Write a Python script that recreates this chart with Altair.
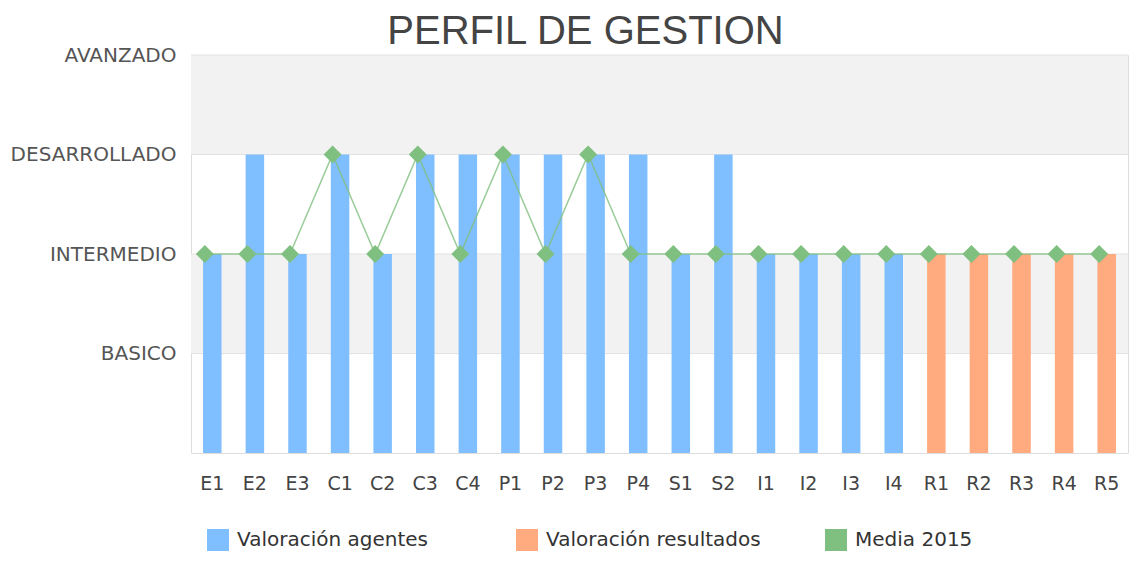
import altair as alt
import pandas as pd

categorias = ["E1", "E2", "E3", "C1", "C2", "C3", "C4", "P1", "P2", "P3", "P4",
              "S1", "S2", "I1", "I2", "I3", "I4", "R1", "R2", "R3", "R4", "R5"]
agentes = [2, 3, 2, 3, 2, 3, 3, 3, 3, 3, 3, 2, 3, 2, 2, 2, 2,
           None, None, None, None, None]
resultados = [None] * 17 + [2, 2, 2, 2, 2]
media = [2, 2, 2, 3, 2, 3, 2, 3, 2, 3, 2, 2, 2, 2, 2, 2, 2, 2, 2, 2, 2, 2]

niveles = ["", "BASICO", "INTERMEDIO", "DESARROLLADO", "AVANZADO"]
bandas_inicio = [1, 3]
bandas_fin = [2, 4]
lineas_grid = [1, 2, 3, 4]
series = ["Valoración agentes", "Valoración resultados", "Media 2015"]
colores = ["#80bfff", "#ffaa7f", "#7fbf7f"]

rows = []
for c, a, r in zip(categorias, agentes, resultados):
    if a is not None:
        rows.append({"cat": c, "valor": a, "serie": series[0]})
    if r is not None:
        rows.append({"cat": c, "valor": r, "serie": series[1]})
barras_df = pd.DataFrame(rows)
media_df = pd.DataFrame({"cat": categorias, "valor": media, "serie": [series[2]] * len(categorias)})
bandas_df = pd.DataFrame({"y": bandas_inicio, "y2": bandas_fin})
grid_df = pd.DataFrame({"y": lineas_grid})

label_expr = "[" + ",".join("'" + n + "'" for n in niveles) + "][datum.value]"
yscale = alt.Scale(domain=[0, 4], nice=False)
yaxis = alt.Axis(values=list(range(len(niveles))), labelExpr=label_expr, title=None,
                 ticks=False, domain=False, grid=False, labelPadding=15,
                 labelFontSize=20, labelColor="#555555", labelFont="DejaVu Sans")

xenc = alt.X("cat:N", sort=categorias,
             scale=alt.Scale(paddingInner=0, paddingOuter=0),
             axis=alt.Axis(title=None, labelAngle=0, ticks=False, domain=False,
                           labelPadding=21, labelFontSize=19, labelColor="#444444",
                           labelFont="DejaVu Sans", grid=False))

color = alt.Color("serie:N", scale=alt.Scale(domain=series, range=colores),
                  legend=alt.Legend(title=None, orient="none", legendX=16, legendY=474,
                                    direction="horizontal", columns=3, gridAlign="all",
                                    columnPadding=64, symbolType="square", symbolSize=484,
                                    symbolStrokeWidth=0, symbolOpacity=1,
                                    labelFontSize=20, labelColor="#333333", labelLimit=400,
                                    labelFont="DejaVu Sans", labelOffset=8, padding=0))

bandas = alt.Chart(bandas_df).mark_rect(color="#f2f2f2").encode(
    y=alt.Y("y:Q", scale=yscale, axis=yaxis),
    y2="y2:Q",
)
grid = alt.Chart(grid_df).mark_rule(color="#e3e3e3", strokeWidth=1).encode(
    y=alt.Y("y:Q", scale=yscale, axis=yaxis),
)
barras = alt.Chart(barras_df).mark_bar(size=18.5).encode(
    x=xenc,
    y=alt.Y("valor:Q", scale=yscale, axis=yaxis),
    color=color,
)
linea = alt.Chart(media_df).mark_line(xOffset=-7.5, strokeWidth=1.5, opacity=0.8).encode(
    x=xenc,
    y=alt.Y("valor:Q", scale=yscale, axis=yaxis),
    color=color,
)
puntos = alt.Chart(media_df).mark_point(shape="diamond", filled=True, size=324,
                                        opacity=1, xOffset=-7.5).encode(
    x=xenc,
    y=alt.Y("valor:Q", scale=yscale, axis=yaxis),
    color=color,
)

chart = alt.layer(bandas, grid, barras, linea, puntos).properties(
    width=937,
    height=398,
    title=alt.TitleParams("PERFIL DE GESTION", font="Liberation Sans", fontSize=40,
                          fontWeight="normal", color="#444444", anchor="middle",
                          dx=-74, dy=8, offset=1),
    padding={"left": 183, "top": 47, "right": 1, "bottom": 98},
    autosize=alt.AutoSizeParams(type="none"),
).configure_view(stroke="#dddddd", strokeWidth=1).configure(background="white")

chart.save("out.html", embed_options={"renderer": "svg", "actions": False})
